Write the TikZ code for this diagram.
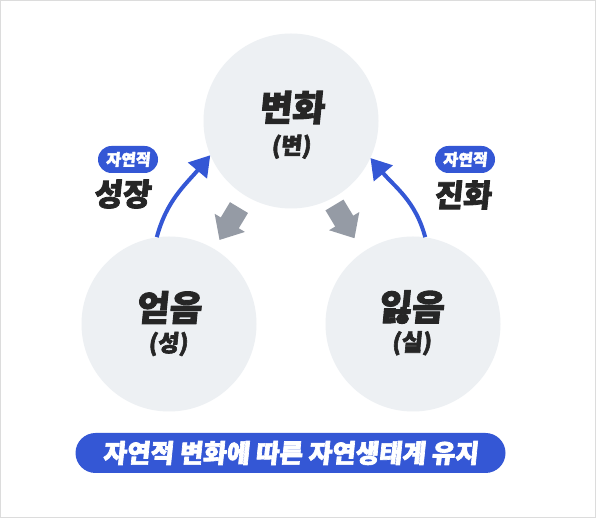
\documentclass[tikz,border=0pt]{standalone}
\usepackage{fontspec}
\newfontfamily\krfont{Noto Sans CJK KR}[BoldFeatures={FakeBold=2.6,FakeSlant=0.1}]
\usetikzlibrary{arrows.meta}
\definecolor{cfill}{HTML}{EDF0F3}
\definecolor{cblue}{HTML}{3457D5}
\definecolor{cgray}{HTML}{959BA5}
\definecolor{ctext}{HTML}{262626}
\definecolor{cframe}{HTML}{DCDCDC}
\begin{document}
\begin{tikzpicture}[x=1pt,y=1pt,
 bubble/.style={circle, fill=cfill, minimum size=175pt, inner sep=0pt},
 title/.style={inner sep=0pt, text=ctext, font=\krfont\bfseries\fontsize{35.5}{37}\selectfont},
 sub/.style={inner sep=0pt, text=ctext, font=\krfont\bfseries\fontsize{23}{25}\selectfont},
 side/.style={inner sep=0pt, text=ctext, font=\krfont\bfseries\fontsize{31}{33}\selectfont},
 badge/.style={fill=cblue, text=white, rounded corners=13.5pt, minimum width=60pt, minimum height=27pt, inner sep=0pt, font=\krfont\bfseries\fontsize{16}{18}\selectfont},
 banner/.style={fill=cblue, text=white, rounded corners=20pt, minimum width=430pt, minimum height=40pt, inner sep=0pt, font=\krfont\bfseries\fontsize{25.5}{27}\selectfont},
 grayarr/.style={draw=cgray, line width=21pt, -{Triangle[width=34pt,length=20pt]}},
 bluearr/.style={draw=cblue, line width=4pt, -{Triangle[width=24pt,length=20pt]}}
]
\useasboundingbox (0,0) rectangle (596,518);
\fill[white] (0,0) rectangle (596,518);
\draw[cframe, line width=1pt] (0.5,0.5) rectangle (595.5,517.5);

\node[bubble] (top) at (291,397) {};
\node[bubble] (left) at (169,194) {};
\node[bubble] (right) at (413,194) {};

\node[title] (t1) at (291.5,410.5) {변화};
\node[sub] (s1) at (291,371.3) {(변)};
\node[title] (t2) at (168.5,210.5) {얻음};
\node[sub] (s2) at (168,174) {(성)};
\node[title] (t3) at (411,211) {잃음};
\node[sub] (s3) at (411.5,174.7) {(실)};

\draw[grayarr, shorten <=101pt, shorten >=98pt] (top.center) -- (left.center);
\draw[grayarr, shorten <=98pt, shorten >=100pt] ([xshift=-7pt]top.center) -- ([xshift=-7pt]right.center);

\draw[bluearr] (left.98) to[out=75,in=230] (top.203);
\draw[bluearr] (right.82) to[out=105,in=-50] (top.-25);

\node[badge] (b1) at (128,358.5) {자연적};
\node[side] (g1) at (122,324) {성장};
\node[badge] (b2) at (465,358.5) {자연적};
\node[side] (g2) at (462.5,323) {진화};

\node[banner] (ban) at (290.5,65) {자연적 변화에 따른 자연생태계 유지};
\end{tikzpicture}
\end{document}
